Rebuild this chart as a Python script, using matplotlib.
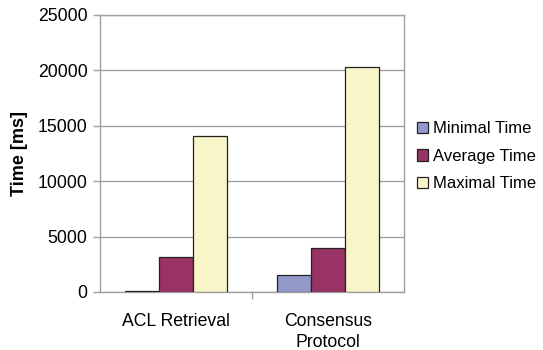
import matplotlib
matplotlib.use("Agg")
import matplotlib.pyplot as plt
import numpy as np

plt.rcParams['font.family'] = ['Liberation Sans', 'DejaVu Sans']

categories = ["ACL Retrieval", "Consensus\nProtocol"]
series_names = ["Minimal Time", "Average Time", "Maximal Time"]
minimal = [100, 1500]
average = [3150, 4000]
maximal = [14050, 20350]
yticks = [0, 5000, 10000, 15000, 20000, 25000]

colors = ["#9499cc", "#993366", "#f8f6c8"]
grid_c = "#a0a0a0"
fs = 12.7

fig = plt.figure(figsize=(5.43, 3.5), dpi=100)
ax = fig.add_axes([100 / 543, 1 - 292 / 350, 304 / 543, 277 / 350])

x = np.arange(len(categories))
w = 0.224
for i, (vals, name, c) in enumerate(zip([minimal, average, maximal], series_names, colors)):
    ax.bar(x + (i - 1) * w, vals, width=w, color=c, edgecolor="#222222",
           linewidth=0.9, label=name, zorder=3)

ax.set_xlim(-0.5, 1.5)
ax.set_ylim(0, 25000)
ax.set_yticks(yticks)
ax.set_yticklabels([str(v) for v in yticks], fontsize=fs)
ax.yaxis.grid(True, color=grid_c, linewidth=1.0, zorder=0)

ax.set_xticks(x)
ax.set_xticklabels(categories, fontsize=fs, linespacing=1.3)
ax.tick_params(axis="x", length=0, pad=15)
# boundary tick between the two groups
ax.set_xticks([0.5], minor=True)
ax.tick_params(axis="x", which="minor", length=5, color=grid_c, width=1.0)
ax.tick_params(axis="y", length=5, color=grid_c, width=1.0, pad=4)

for s in ax.spines.values():
    s.set_color(grid_c)
    s.set_linewidth(1.0)

ax.set_ylabel("Time [ms]", fontsize=fs + 0.3, fontweight="bold", labelpad=7)

ax.legend(loc="center left", bbox_to_anchor=(1.02, 0.49), frameon=False,
          fontsize=12.0, handlelength=0.7, handleheight=0.7, handletextpad=0.3,
          labelspacing=0.75, borderaxespad=0.0)

fig.savefig("out.png", dpi=100)
